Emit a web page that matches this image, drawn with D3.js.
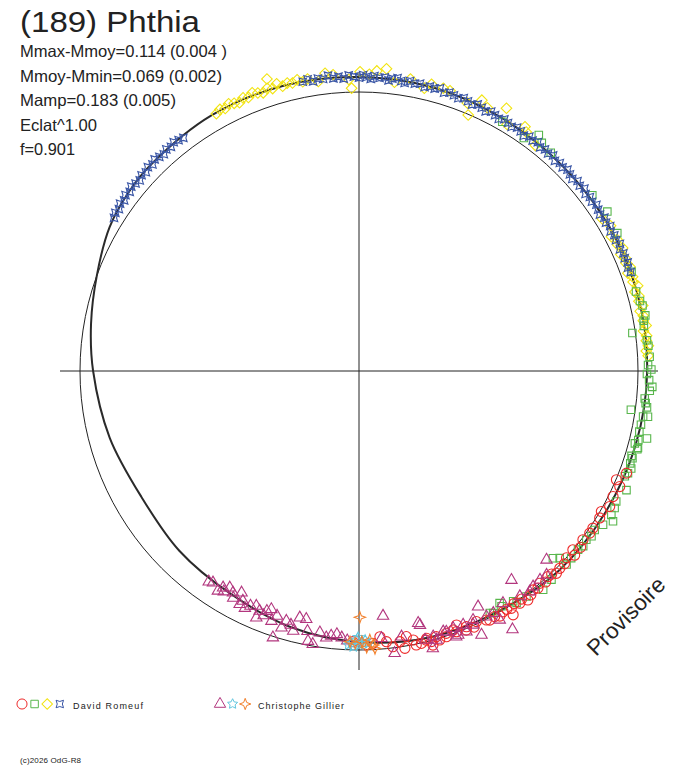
<!DOCTYPE html>
<html>
<head>
<meta charset="utf-8">
<script src="https://cdn.jsdelivr.net/npm/d3@7"></script>
<style>
  body { margin: 0; background: #fff; }
  svg { display: block; }
  text { font-family: "Liberation Sans", Arial, sans-serif; fill: #222; }
</style>
</head>
<body>
<div class="d3-container"></div>
<script>
// fitted light curve, phase in degrees (clockwise from top), magnitude relative to Mmoy
const curvePhase = [0, 15, 30, 45, 60, 75, 90, 105, 120, 135, 150, 165, 180, 195, 210, 225, 240, 255, 270, 280, 290, 300, 308, 315, 330, 345];
const curveMag = [-0.065, -0.061, -0.050, -0.043, -0.043, -0.043, -0.040, -0.032, -0.022, -0.015, 0.005, 0.015, 0.035, 0.061, 0.095, 0.108, 0.120, 0.091, 0.057, 0.030, 0.000, -0.039, -0.055, -0.061, -0.070, -0.070];

// observations [phase, magnitude]
const romeufCircles = [[112.9,-0.002],[110.9,-0.032],[113.9,-0.027],[116.3,-0.019],[118.4,-0.026],[120.1,-0.005],[121.4,-0.013],[123.9,-0.012],[125.1,-0.013],[127,-0.006],[128.5,-0.018],[129.9,0.001],[130.5,-0.020],[132,-0.001],[133.2,-0.012],[134.5,-0.011],[135.7,-0.016],[136.5,-0.004],[137.4,-0.001],[138.5,-0.012],[139.6,0.001],[140.5,-0.010],[141.5,-0.003],[142.5,-0.014],[143.6,-0.024],[144.5,-0.005],[145.3,-0.015],[146.3,-0.002],[147.3,-0.013],[147.7,-0.041],[148.2,-0.006],[149.1,-0.007],[150.1,-0.016],[151.1,-0.007],[152.3,-0.010],[152.9,-0.003],[154.9,0.010],[155.8,-0.008],[157.2,0.007],[157.5,-0.006],[159,0.030],[159.5,0.003],[160,0.015],[161.6,0.011],[161.8,-0.003],[163.3,-0.008],[163.8,0.010],[164.9,-0.021],[165,-0.005],[165.8,0.014],[166,0.007],[167.1,-0.002],[168.2,-0.004],[168.6,0.020],[169.9,0.040],[170.6,-0.009],[171.4,0.023],[173,0.005],[174.2,0.030],[175.5,0.054],[177.1,0.027],[178.5,0.021],[181.3,0.036]];
const romeufSquares = [[29.9,-0.037],[35.3,-0.028],[37.3,-0.077],[38.7,-0.058],[41.3,-0.050],[53,-0.057],[57.3,-0.070],[61.9,-0.060],[70,-0.048],[74,-0.040],[76,-0.046],[77,-0.052],[79,-0.055],[80,-0.044],[81,-0.041],[82.1,0.013],[83.9,-0.046],[85,-0.050],[87.2,-0.052],[88.8,-0.044],[89.7,-0.058],[90.6,-0.039],[91.8,-0.049],[93.1,-0.064],[93.9,-0.054],[95.5,-0.035],[96.4,-0.041],[97.2,-0.049],[98.1,0.019],[99,-0.059],[99.1,-0.038],[100.8,-0.035],[102.2,-0.034],[103.2,-0.073],[103.9,-0.038],[104.7,-0.027],[105.4,-0.045],[105.7,-0.044],[107.3,-0.028],[107.7,-0.035],[108.8,-0.033],[109.7,-0.044],[110.8,-0.038],[111.6,-0.030],[114,-0.060],[116.9,-0.041],[118.2,-0.048],[119.7,-0.050],[120.6,-0.070],[122.2,-0.041],[124,-0.023],[125.4,-0.027],[126.6,-0.018],[128,-0.024],[129.2,-0.016],[131.4,-0.017],[133,-0.021],[133,0.020],[134,0.041],[137.3,-0.021],[139.9,-0.030],[143.4,-0.008],[145.8,-0.006],[146.2,0.008],[148.8,0.017],[148.8,0.033],[151,0.010],[151.6,0.017]];
const romeufDiamonds = [[331,-0.066],[332,-0.075],[333,-0.068],[334,-0.080],[335,-0.071],[336,-0.064],[337,-0.077],[338,-0.070],[339,-0.083],[340,-0.073],[341,-0.066],[342,-0.079],[343,-0.071],[344,-0.086],[345,-0.069],[346,-0.077],[347,-0.072],[348,-0.081],[349,-0.068],[350,-0.076],
  [342.5,-0.118],[358.5,-0.017],[0.2,-0.088],[3.4,-0.094],[5.2,-0.106],[14.2,-0.073],[16.6,-0.070],[24.4,-0.080],[29.3,-0.097],[23.1,0.003],[353.5,-0.090],[34.2,-0.071],
  [352,-0.058],[355,-0.080],[358,-0.055],[2,-0.078],[7,-0.052],[10,-0.076],[13,-0.049],[18,-0.068],[22,-0.044],[26,-0.060],[31,-0.037],[35,-0.055],[38,-0.032],
  [58,-0.035],[60,-0.050],[62,-0.030],[63,-0.046],[64,-0.038],[65,-0.052],[66,-0.033],[67,-0.044],[68,-0.039],[69,-0.050],[70,-0.031],[71,-0.045],[72,-0.040],[73,-0.054],[74,-0.035],[75,-0.047],[76,-0.041],[77,-0.053],[78,-0.037],[79,-0.046],[80,-0.042],[81,-0.051],[82,-0.036],[83,-0.047],[84,-0.043],[85,-0.050],[86,-0.039],[87,-0.046]];
const romeufStars = [[302,-0.043],[303,-0.050],[304,-0.046],[305,-0.055],[306,-0.049],[307,-0.058],[308,-0.052],[309,-0.061],[310,-0.055],[311,-0.050],[312,-0.059],[313,-0.054],[314,-0.063],[315,-0.057],[316,-0.066],[317,-0.060],[318,-0.055],[319,-0.064],[320,-0.059],[321,-0.067],[322,-0.061],[323,-0.056],
  [349,-0.068],[350,-0.075],[351,-0.062],[352,-0.071],[353,-0.066],[354,-0.078],[355,-0.064],[356,-0.070],[357,-0.060],[358,-0.073],[359,-0.067],[0,-0.062],[0.8,-0.074],[1.5,-0.066],[2.3,-0.058],[3,-0.071],[4,-0.064],[5,-0.069],[5.8,-0.057],[6.5,-0.066],[7.5,-0.072],[8.3,-0.061],[9,-0.055],[10,-0.067],[11,-0.060],[12,-0.064],[13,-0.054],[14,-0.062],[15,-0.058],[16,-0.066],[17,-0.052],[18,-0.060],[19,-0.055],[20,-0.049],[21,-0.058],[22,-0.052],[23,-0.045],[24,-0.056],[25,-0.050],[26,-0.043],[27,-0.053],[28,-0.047],[29,-0.040],[30,-0.051],[31,-0.045],[32,-0.039],[33,-0.049],[34,-0.044],[35,-0.036],[36,-0.047],[37,-0.041],[38,-0.050],[39,-0.038],[40,-0.045],[41,-0.040],[42,-0.048],[43,-0.036],[44,-0.044],[45,-0.039],[46,-0.047],[47,-0.041],[48,-0.035],[49,-0.046],[50,-0.040],[51,-0.048],[52,-0.037],[53,-0.044],[54,-0.039],[55,-0.047],[56,-0.041],[57,-0.036],[58,-0.045],[59,-0.040],[60,-0.048],[61,-0.038],[62,-0.044],[63,-0.041],[64,-0.049],[65,-0.039],[66,-0.045],[67,-0.042],[68,-0.047],[69,-0.040],[70,-0.044]];
const gillierTriangles = [[215.5,0.088],[214.6,0.095],[212.7,0.077],[212.1,0.101],[211.5,0.088],[210.8,0.116],[209.6,0.104],[209,0.085],[207.9,0.122],[207.1,0.074],[206.8,0.093],[205.7,0.069],[204.8,0.088],[203.6,0.098],[202.5,0.084],[202.6,0.051],[201.3,0.072],[201,0.095],[200.2,0.109],[199.3,0.061],[198.5,0.090],[197.9,-0.005],[196.8,0.047],[196.2,0.081],[195,0.070],[194.2,0.047],[193.5,0.110],[192,0.110],[191.2,0.060],[190.7,0.018],[189.6,0.008],[188.5,0.063],[187,0.045],[186,0.055],[184.8,0.064],[183.7,0.051],[182.5,0.040],
  [175.2,0.047],[172.8,-0.024],[170.9,0.043],[174.4,0.143],[166.8,0.087],[166.5,0.077],[165.1,-0.035],[163.9,-0.004],[161.5,0.017],[159.4,-0.013],[153.2,0.065],[157.6,-0.013],[155.8,0.003],[155.1,-0.052],[143.9,0.088],[149.3,-0.094],[150.5,-0.030],[135.2,0.056],[139.1,0.011],[137.4,0.008],[144.5,0.009],[142.3,0.000],[148.2,0.025],[151,0.009],[152.6,0.010],[155.4,0.022],[157.7,0.020],[159.9,0.022],[162.1,0.022],[159.9,-0.017],[164.4,0.014],[166.2,0.009],[141.1,0.008]];
const gillierStars5 = [[181.6,0.029],[180.5,0.043],[179.8,0.022],[178.7,0.043],[178,0.028],[181.2,0.014],[180.2,0.055],[179.1,0.029],[182.2,0.021]];
const gillierStars4 = [[179.8,0.142],[180.8,0.029],[177.7,0.043],[177,0.020],[178.4,0.011],[181.9,0.035],[179.4,0.036],[176.7,0.005]];

const title = "(189) Phthia";
const statLines = ["Mmax-Mmoy=0.114 (0.004 )", "Mmoy-Mmin=0.069 (0.002)", "Mamp=0.183 (0.005)", "Eclat^1.00", "f=0.901"];
const statWidths = [207, 202, 156, 77, 55];
const observers = ["David Romeuf", "Christophe Gillier"];

const width = 688;
const height = 768;
const cx = 359, cy = 371;
const axisLen = 299;

const svg = d3.select(".d3-container")
  .append("svg")
  .attr("width", width)
  .attr("height", height)
  .attr("viewBox", [0, 0, width, height]);

svg.append("rect").attr("width", width).attr("height", height).attr("fill", "#fff");

// radius scale: brighter = further out
const r = d3.scaleLinear().domain([0, 0.1]).range([279, 256]);
const rad = d => d * Math.PI / 180;

// custom star symbol: n points, inner ratio, rotation
function starType(n, inner, rot) {
  return {
    draw(ctx, size) {
      const R = Math.sqrt(size);
      for (let i = 0; i < 2 * n; i++) {
        const a = rot + i * Math.PI / n;
        const rr = i % 2 ? R * inner : R;
        const x = rr * Math.sin(a), y = -rr * Math.cos(a);
        if (i) ctx.lineTo(x, y); else ctx.moveTo(x, y);
      }
      ctx.closePath();
    }
  };
}

const styles = {
  circle:   {sym: d3.symbol(d3.symbolCircle, 80), color: "#ee2b2b", rot: 0},
  square:   {sym: d3.symbol(d3.symbolSquare, 56), color: "#58b64c", rot: 0},
  diamond:  {sym: d3.symbol(d3.symbolSquare, 56), color: "#f2e410", rot: 45},
  star4x:   {sym: d3.symbol(starType(4, 0.48, Math.PI / 4), 28), color: "#3a56a6", rot: 0},
  triangle: {sym: d3.symbol(d3.symbolTriangle, 56), color: "#b2367e", rot: 0},
  star5:    {sym: d3.symbol(starType(5, 0.5, 0), 28), color: "#62c6de", rot: 0},
  star4:    {sym: d3.symbol(starType(4, 0.38, 0), 32), color: "#f2802c", rot: 0}
};

const plot = svg.append("g").attr("transform", `translate(${cx},${cy})`);

// axes
plot.append("line").attr("x1", -axisLen).attr("x2", axisLen).attr("y1", 0).attr("y2", 0)
  .attr("stroke", "#222").attr("stroke-width", 1);
plot.append("line").attr("y1", -axisLen).attr("y2", axisLen).attr("x1", 0).attr("x2", 0)
  .attr("stroke", "#222").attr("stroke-width", 1);

// mean magnitude circle
plot.append("circle").attr("r", r(0)).attr("fill", "none")
  .attr("stroke", "#222").attr("stroke-width", 1);

// fitted curve
const curveData = curvePhase.map((p, i) => [p, curveMag[i]]);
plot.append("path")
  .datum(curveData)
  .attr("d", d3.lineRadial()
    .angle(d => rad(d[0]))
    .radius(d => r(d[1]))
    .curve(d3.curveCatmullRomClosed))
  .attr("fill", "none")
  .attr("stroke", "#2a2a2a")
  .attr("stroke-width", 2);

function drawSeries(data, st) {
  const s = styles[st];
  plot.append("g")
    .selectAll("path")
    .data(data)
    .join("path")
    .attr("transform", d => {
      const [x, y] = d3.pointRadial(rad(d[0]), r(d[1]));
      return `translate(${x},${y}) rotate(${s.rot})`;
    })
    .attr("d", s.sym())
    .attr("fill", "none")
    .attr("stroke", s.color)
    .attr("stroke-width", 1.1);
}

drawSeries(romeufDiamonds, "diamond");
drawSeries(romeufSquares, "square");
drawSeries(romeufStars, "star4x");
drawSeries(romeufCircles, "circle");
drawSeries(gillierTriangles, "triangle");
drawSeries(gillierStars5, "star5");
drawSeries(gillierStars4, "star4");

// title and stats
svg.append("text").attr("x", 20).attr("y", 32)
  .attr("font-size", 29).attr("textLength", 180).attr("lengthAdjust", "spacingAndGlyphs")
  .text(title);

svg.append("g").selectAll("text")
  .data(statLines)
  .join("text")
  .attr("x", 20)
  .attr("y", (d, i) => 57 + i * 24.6)
  .attr("font-size", 16.5)
  .attr("textLength", (d, i) => statWidths[i])
  .attr("lengthAdjust", "spacingAndGlyphs")
  .text(d => d);

// legend
const legend = [
  {x: 22, marks: ["circle", "square", "diamond", "star4x"], tx: 73, tw: 70},
  {x: 220, marks: ["triangle", "star5", "star4"], tx: 258, tw: 86}
];
legend.forEach((g, gi) => {
  g.marks.forEach((m, mi) => {
    const s = styles[m];
    svg.append("path")
      .attr("transform", `translate(${g.x + mi * 12.6},704) rotate(${s.rot})`)
      .attr("d", s.sym())
      .attr("fill", "none")
      .attr("stroke", s.color)
      .attr("stroke-width", 1);
  });
  svg.append("text").attr("x", g.tx).attr("y", 708.5)
    .attr("font-size", 9).attr("textLength", g.tw).attr("lengthAdjust", "spacing")
    .text(observers[gi]);
});

svg.append("text").attr("x", 20).attr("y", 763)
  .attr("font-size", 8).attr("textLength", 61).attr("lengthAdjust", "spacing")
  .text("(c)2026 OdG-R8");

// watermark
svg.append("text")
  .attr("transform", "translate(596,657) rotate(-45)")
  .attr("font-size", 22.5)
  .attr("fill", "#222")
  .text("Provisoire");
</script>
</body>
</html>
